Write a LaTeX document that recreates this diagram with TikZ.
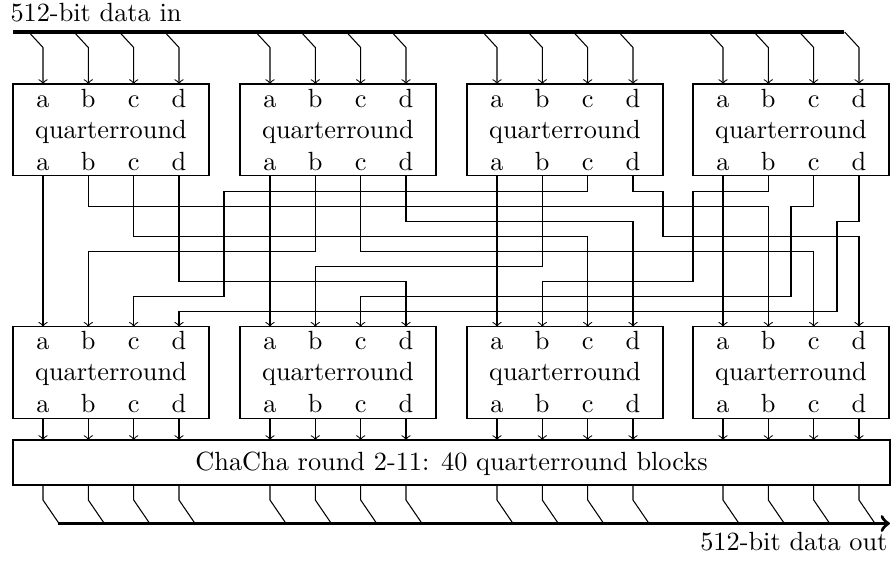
\documentclass[tikz,border=0pt]{standalone}
\usetikzlibrary{calc}
\begin{document}
\begin{tikzpicture}[x=0.38pt,y=-0.38pt,
  qbox/.style={draw,minimum width=74.48pt,minimum height=34.85pt,inner sep=0pt,outer sep=0pt,anchor=north west},
  lbl/.style={anchor=base,inner sep=0pt},
  wire/.style={->},
  bus/.style={line width=1.3pt}]
\useasboundingbox (0,0) rectangle (893,561);
% quarterround boxes, pins and labels
\foreach \r/\top in {1/84,2/326.7}{
  \foreach \i/\cx in {1/111,2/338,3/565,4/791}{
    \node[qbox] (Q\r\i) at ({\cx-98},\top) {};
    \node[lbl] at (\cx,{\top+54}) {quarterround};
    \foreach \p/\dx in {a/-68,b/-22.7,c/22.7,d/68}{
      \coordinate (I\r\i\p) at ({\cx+\dx},\top);
      \coordinate (O\r\i\p) at ({\cx+\dx},{\top+91.7});
      \node[lbl] at ({\cx+\dx},{\top+23}) {\p};
      \node[lbl] at ({\cx+\dx},{\top+86}) {\p};
    }
  }
}
% input bus
\node[anchor=base west,inner sep=0pt] (tin) at (10,21.7) {512-bit data in};
\coordinate (busL) at (13,32);
\coordinate (busR) at (844,32);
\draw[bus] (busL) -- (busR);
\foreach \i in {1,2,3,4}{
  \foreach \p in {a,b,c,d}{
    \draw[wire] ($(I1\i\p)+(-14.3,-52)$) -- ++(14.3,15.5) -- (I1\i\p);
  }
}
% routing levels and jogs
\foreach \k in {1,...,9}{\coordinate (L\k) at (0,{191.7+15*(\k-1)});}
\coordinate (J1) at (224,0);
\coordinate (J2) at (663,0);
\coordinate (J3) at (693,0);
\coordinate (J4) at (791,0);
\coordinate (J5) at (837,0);
% a: straight
\foreach \i in {1,2,3,4}{\draw[wire] (O1\i a) -- (I2\i a);}
% simple one-level routes
\draw[wire] (O11b) -- (O11b |- L2) -| (I24b);
\draw[wire] (O11c) -- (O11c |- L4) -| (I23c);
\draw[wire] (O11d) -- (O11d |- L7) -| (I22d);
\draw[wire] (O12b) -- (O12b |- L5) -| (I21b);
\draw[wire] (O12c) -- (O12c |- L5) -| (I24c);
\draw[wire] (O12d) -- (O12d |- L3) -| (I23d);
\draw[wire] (O13b) -- (O13b |- L6) -| (I22b);
% jogged routes
\draw[wire] (O13c) -- (O13c |- L1) -- (J1 |- L1) -- (J1 |- L8) -| (I21c);
\draw[wire] (O13d) -- (O13d |- L1) -- (J2 |- L1) -- (J2 |- L4) -| (I24d);
\draw[wire] (O14b) -- (O14b |- L1) -- (J3 |- L1) -- (J3 |- L7) -| (I23b);
\draw[wire] (O14c) -- (O14c |- L2) -- (J4 |- L2) -- (J4 |- L8) -| (I22c);
\draw[wire] (O14d) -- (O14d |- L3) -- (J5 |- L3) -- (J5 |- L9) -| (I21d);
% ChaCha box
\node[draw,minimum width=333.26pt,minimum height=17.1pt,inner sep=0pt,outer sep=0pt,anchor=north west] (CC) at (13,440) {};
\node[lbl] (cctext) at (451.5,470) {ChaCha round 2-11: 40 quarterround blocks};
\foreach \i in {1,2,3,4}{
  \foreach \p in {a,b,c,d}{
    \draw[wire] (O2\i\p) -- (O2\i\p |- CC.north);
    \draw (O2\i\p |- CC.south) -- ++(0,15) -- ++(15.7,23);
  }
}
% output bus
\coordinate (outL) at (58,523.5);
\coordinate (outR) at (890,523.5);
\draw[bus,->] (outL) -- (outR);
\node[anchor=base east,inner sep=0pt] (tout) at (888,550) {512-bit data out};
\end{tikzpicture}
\end{document}
